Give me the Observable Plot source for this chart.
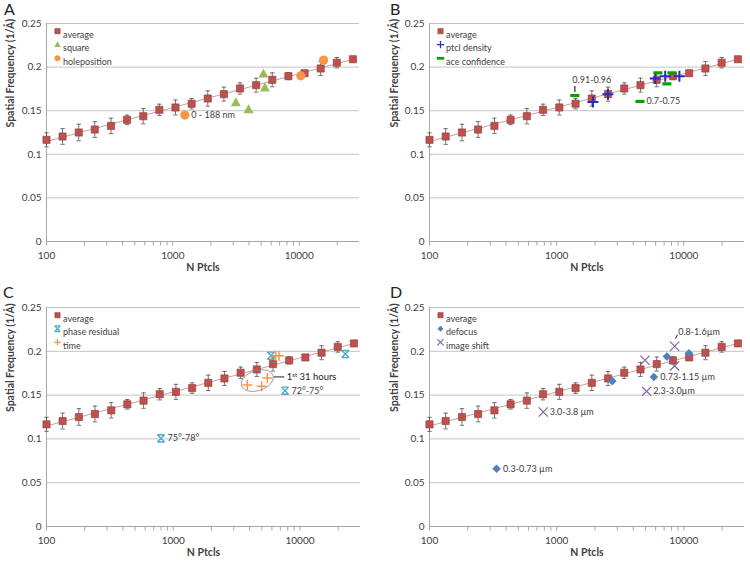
<!DOCTYPE html>
<html><head><meta charset="utf-8">
<script src="https://cdn.jsdelivr.net/npm/d3@7"></script>
<script src="https://cdn.jsdelivr.net/npm/@observablehq/plot@0.6"></script>
<style>
html,body{margin:0;padding:0;background:#fff;}
#wrap{position:relative;width:750px;height:561px;overflow:hidden;font-family:Lato,"Open Sans",sans-serif;}
.panel{position:absolute;}
.letter{position:absolute;font-size:16px;color:#222;line-height:1;}
</style></head><body><div id="wrap"></div>
<script>
// ---------- data ----------
const xDomain = [100, 30000];
const xMajorTicks = [100, 1000, 10000];
const xMinorTicks = [200,300,400,500,600,700,800,900,2000,3000,4000,5000,6000,7000,8000,9000,20000];
const yTicks = [0, 0.05, 0.1, 0.15, 0.2, 0.25];
const yTickLabels = ["0", "0.05", "0.1", "0.15", "0.2", "0.25"];

const nPtcls  = [100,134,180,241,324,434,583,782,1049,1408,1889,2534,3400,4562,6121,8213,11020,14786,19840,26620];
const avgFreq = [0.1166,0.1204,0.125,0.1284,0.1326,0.1395,0.1437,0.151,0.1537,0.158,0.164,0.169,0.1755,0.1793,0.1854,0.1896,0.193,0.1984,0.205,0.209];
const avgErr  = [0.008,0.009,0.0095,0.009,0.0088,0.0055,0.0088,0.0065,0.0086,0.006,0.0088,0.008,0.0065,0.008,0.008,0.004,0.003,0.008,0.006,0];

// Panel A
const squareN = [3150, 3970, 5210, 5350];
const squareFreq = [0.159, 0.151, 0.192, 0.176];
const holeN = [1244, 10300, 15600];
const holeFreq = [0.145, 0.190, 0.208];
const holeNotes = ["0 - 188 nm", "", ""];

// Panel B
const ptclN = [1930, 2530, 5960, 7140, 9230];
const ptclFreq = [0.160, 0.169, 0.187, 0.1896, 0.1896];
const aceN = [1390, 4520, 6250, 7360, 8070];
const aceFreq = [0.1674, 0.1606, 0.1934, 0.1808, 0.1934];
const aceNotes = ["0.91-0.96", "0.7-0.75", "", "", ""];

// Panel C
const phaseN = [800, 5900, 7620, 22750];
const phaseFreq = [0.1006, 0.195, 0.155, 0.197];
const phaseNotes = ["75°-78°", "", "72°-75°", ""];
const timeN = [3840, 4980, 5520, 6430, 6830];
const timeFreq = [0.1616, 0.160, 0.1696, 0.195, 0.195];
const timeNotes = ["", "", "1st 31 hours", "", ""];

// Panel D
const defocusN = [337, 2740, 5810, 7360, 10960];
const defocusFreq = [0.0659, 0.166, 0.1707, 0.194, 0.1978];
const defocusNotes = ["0.3-0.73 µm", "", "0.73-1.15 µm", "", ""];
const shiftN = [784, 4950, 5100, 8470, 8470];
const shiftFreq = [0.1307, 0.1898, 0.1543, 0.2058, 0.1833];
const shiftNotes = ["3.0-3.8 µm", "", "2.3-3.0µm", "0.8-1.6µm", ""];

// ---------- drawing ----------
const INK = "#404040";
const FONT = "Lato, 'Open Sans', sans-serif";
const pts = (ns, fs, notes) => ns.map((n, i) => ({n, f: fs[i], note: notes ? notes[i] : ""}));

const sym = {
  square: s => ({draw(c){ c.rect(-s, -s, 2*s, 2*s); }}),
  tri: s => ({draw(c){ c.moveTo(0, -1.1*s); c.lineTo(s, 0.7*s); c.lineTo(-s, 0.7*s); c.closePath(); }}),
  diamond: s => ({draw(c){ c.moveTo(0, -s); c.lineTo(s, 0); c.lineTo(0, s); c.lineTo(-s, 0); c.closePath(); }}),
  circle: s => ({draw(c){ c.moveTo(s, 0); c.arc(0, 0, s, 0, 2*Math.PI); c.closePath(); }}),
  plus: s => ({draw(c){ c.moveTo(-s, 0); c.lineTo(s, 0); c.moveTo(0, -s); c.lineTo(0, s); }}),
  cross: s => ({draw(c){ c.moveTo(-s, -s); c.lineTo(s, s); c.moveTo(-s, s); c.lineTo(s, -s); }}),
  star: s => ({draw(c){ c.moveTo(-s, -s); c.lineTo(s, s); c.moveTo(-s, s); c.lineTo(s, -s);
                        c.moveTo(-s, -s); c.lineTo(s, -s); c.moveTo(-s, s); c.lineTo(s, s); }}),
  dash: (w, h) => ({draw(c){ c.rect(-w, -h, 2*w, 2*h); }}),
  seg: (x0, y0, x1, y1) => ({draw(c){ c.moveTo(x0, y0); c.lineTo(x1, y1); }}),
  blob: (rx, ry, deg) => ({draw(c){
    const a = deg*Math.PI/180;
    for (let k = 0; k <= 60; k++) {
      const t = k/60*2*Math.PI, x = rx*Math.cos(t), y = ry*Math.sin(t);
      const X = x*Math.cos(a) - y*Math.sin(a), Y = x*Math.sin(a) + y*Math.cos(a);
      k ? c.lineTo(X, Y) : c.moveTo(X, Y);
    }
    c.closePath();
  }})
};

const styles = {
  "average":        {sym: sym.square(3.6),  lsym: sym.square(2.6), fill: "#C0504D", stroke: "#8C3A38", sw: 0.6},
  "square":         {sym: sym.tri(5),       lsym: sym.tri(3.2),    fill: "#9BBB59", stroke: "none", sw: 0},
  "holeposition":   {sym: sym.circle(4.6),  lsym: sym.circle(3),   fill: "#F79646", stroke: "none", sw: 0},
  "ptcl density":   {sym: sym.plus(5.5),    lsym: sym.plus(3.6),   fill: "none", stroke: "#2B2BC0", sw: 2},
  "ace confidence": {sym: sym.dash(4.5,1.6),lsym: sym.dash(3.6,1.4), fill: "#00A000", stroke: "none", sw: 0},
  "phase residual": {sym: sym.star(3.6),    lsym: sym.star(2.8),   fill: "none", stroke: "#4BACC6", sw: 1.4},
  "time":           {sym: sym.plus(5),      lsym: sym.plus(3.3),   fill: "none", stroke: "#F79646", sw: 1.5},
  "defocus":        {sym: sym.diamond(4.3), lsym: sym.diamond(3),  fill: "#4F81BD", stroke: "none", sw: 0},
  "image shift":    {sym: sym.cross(4.6),   lsym: sym.cross(3.1),  fill: "none", stroke: "#8064A2", sw: 1.2}
};

const avg = pts(nPtcls, avgFreq).map((d, i) => ({...d, e: avgErr[i]}));
const lx = avg.map(d => Math.log10(d.n));
const mx = d3.mean(lx), my = d3.mean(avg, d => d.f);
const slope = d3.sum(avg, (d, i) => (lx[i] - mx) * (d.f - my)) / d3.sum(lx, v => (v - mx) ** 2);
const trend = d3.extent(nPtcls).map(n => ({n, f: my + slope * (Math.log10(n) - mx)}));
const bars = avg.filter(d => d.e > 0);
const caps = bars.flatMap(d => [{n: d.n, f: d.f + d.e}, {n: d.n, f: d.f - d.e}]);

function seriesMarks(name, data) {
  const s = styles[name];
  return Plot.dot(data, {x: "n", y: "f", symbol: s.sym, fill: s.fill, stroke: s.stroke, strokeWidth: s.sw});
}

function panel(p) {
  const legendRows = [7.7, 21.2, 34.8];
  const names = ["average", ...p.series.map(s => s.name)];
  const marks = [
    Plot.ruleY(yTicks.slice(1), {stroke: "#c4c4c4", strokeWidth: 1}),
    Plot.ruleY([yTicks[0]], {stroke: "#a6a6a6", strokeWidth: 1}),
    Plot.ruleX([xDomain[0]], {stroke: "#a6a6a6", strokeWidth: 1}),
    Plot.dot(xMajorTicks.concat(xMinorTicks), {x: d => d, frameAnchor: "bottom", symbol: sym.seg(0, 0, 0, 4), stroke: "#a6a6a6", strokeWidth: 1}),
    Plot.line(trend, {x: "n", y: "f", stroke: "#c2a3a3", strokeWidth: 1}),
    Plot.ruleX(bars, {x: "n", y1: d => d.f - d.e, y2: d => d.f + d.e, stroke: "#505050", strokeWidth: 0.8}),
    Plot.dot(caps, {x: "n", y: "f", symbol: sym.seg(-2.2, 0, 2.2, 0), stroke: "#505050", strokeWidth: 0.8}),
    seriesMarks("average", avg),
    ...p.series.map(s => seriesMarks(s.name, s.data)),
    ...p.extra,
    // notes to the right of points
    ...p.series.map(s => Plot.text(s.data.filter((d, i) => d.note && !(s.above || []).includes(i)),
      {x: "n", y: "f", text: "note", dx: 6.5, textAnchor: "start", fontSize: 9, fill: INK})),
    // legend
    ...names.flatMap((nm, i) => [
      Plot.dot([nm], {frameAnchor: "top-left", dx: 11, dy: legendRows[i], symbol: styles[nm].lsym,
        fill: styles[nm].fill, stroke: styles[nm].stroke, strokeWidth: Math.min(styles[nm].sw, 1.3)}),
      Plot.text([nm], {frameAnchor: "top-left", dx: 16.5, dy: legendRows[i], text: d => d, textAnchor: "start", fontSize: 9, fill: INK})
    ]),
    Plot.text(["N Ptcls"], {frameAnchor: "bottom", dy: 29, text: d => d, fontWeight: "bold", fontSize: 10.5, fill: INK}),
    Plot.text(["Spatial Frequency (1/Å)"], {frameAnchor: "left", dx: p.ylabDx, dy: -5, rotate: -90, text: d => d, fontWeight: "bold", fontSize: 10.5, fill: INK})
  ];
  const svg = Plot.plot({
    width: 375, height: p.height,
    marginLeft: p.ml, marginRight: p.mr, marginTop: p.mt, marginBottom: p.mb,
    style: {fontFamily: FONT, fontSize: "10px", color: INK, background: "white", overflow: "visible"},
    x: {type: "log", domain: xDomain, ticks: xMajorTicks, tickFormat: d => String(d), tickSize: 0, tickPadding: 10, label: null},
    y: {domain: [yTicks[0], yTicks[yTicks.length - 1]], ticks: yTicks, tickFormat: d => yTickLabels[yTicks.indexOf(d)] ?? String(d), tickSize: 0, tickPadding: 5, label: null},
    marks
  });
  // superscript for "1st"
  svg.querySelectorAll("text").forEach(t => {
    if (t.textContent === "1st 31 hours") {
      t.textContent = "1";
      const sup = document.createElementNS("http://www.w3.org/2000/svg", "tspan");
      sup.setAttribute("font-size", "6"); sup.setAttribute("dy", "-3"); sup.textContent = "st";
      const rest = document.createElementNS("http://www.w3.org/2000/svg", "tspan");
      rest.setAttribute("dy", "3"); rest.textContent = " 31 hours";
      t.appendChild(sup); t.appendChild(rest);
    }
  });
  const div = document.createElement("div");
  div.className = "panel";
  div.style.left = p.left + "px"; div.style.top = p.top + "px";
  div.appendChild(svg);
  const wrap = document.getElementById("wrap");
  wrap.appendChild(div);
  const L = document.createElement("div");
  L.className = "letter"; L.textContent = p.letter;
  L.style.left = p.lx + "px"; L.style.top = p.ly + "px";
  wrap.appendChild(L);
}

const holeData = pts(holeN, holeFreq, holeNotes);
const aceData = pts(aceN, aceFreq, aceNotes);
const ptclData = pts(ptclN, ptclFreq);
const phaseData = pts(phaseN, phaseFreq, phaseNotes);
const timeData = pts(timeN, timeFreq, timeNotes);
const defocusData = pts(defocusN, defocusFreq, defocusNotes);
const shiftData = pts(shiftN, shiftFreq, shiftNotes);

// cluster loop for the "1st 31 hours" points
const cluster = timeData.slice(0, 3);
const clusterC = {n: 10 ** d3.mean(cluster, d => Math.log10(d.n)), f: d3.mean(cluster, d => d.f)};

panel({letter: "A", left: 0, top: 0, height: 280, ml: 46, mr: 16, mt: 23, mb: 39, ylabDx: -36, lx: 4, ly: 1,
  series: [{name: "square", data: pts(squareN, squareFreq)}, {name: "holeposition", data: holeData}],
  extra: []});

panel({letter: "B", left: 375, top: 0, height: 280, ml: 54, mr: 6, mt: 23, mb: 39, ylabDx: -35, lx: 390, ly: 1,
  series: [{name: "ptcl density", data: ptclData}, {name: "ace confidence", data: aceData, above: [0]}],
  extra: [
    Plot.dot([aceData[0]], {x: "n", y: "f", symbol: sym.seg(0, -3.5, 0, -9.5), stroke: "#222", strokeWidth: 1.2}),
    Plot.text([aceData[0]], {x: "n", y: "f", text: "note", dx: -2.5, dy: -15.5, textAnchor: "start", fontSize: 9, fill: INK})
  ]});

panel({letter: "C", left: 0, top: 280, height: 281, ml: 46, mr: 15, mt: 27, mb: 35, ylabDx: -36, lx: 3, ly: 284,
  series: [{name: "phase residual", data: phaseData}, {name: "time", data: timeData, above: [2]}],
  extra: [
    Plot.dot([clusterC], {x: "n", y: "f", symbol: sym.blob(16.5, 10, -18), fill: "none", stroke: "#808080", strokeWidth: 0.8, dx: -1.5, dy: -2.5}),
    Plot.dot([timeData[2]], {x: "n", y: "f", symbol: sym.seg(6.5, -1, 17, -1), stroke: "#222", strokeWidth: 1}),
    Plot.text([timeData[2]], {x: "n", y: "f", text: "note", dx: 19.5, dy: -1, textAnchor: "start", fontSize: 9.5, fill: "#222"})
  ]});

panel({letter: "D", left: 375, top: 280, height: 281, ml: 54, mr: 6, mt: 27, mb: 35, ylabDx: -35, lx: 390, ly: 284,
  series: [{name: "defocus", data: defocusData}, {name: "image shift", data: shiftData, above: [3]}],
  extra: [
    Plot.dot([shiftData[3]], {x: "n", y: "f", symbol: sym.seg(0.8, -7.5, 2.8, -11.5), stroke: "#222", strokeWidth: 1}),
    Plot.text([shiftData[3]], {x: "n", y: "f", text: "note", dx: 3.5, dy: -14.5, textAnchor: "start", fontSize: 9, fill: INK})
  ]});
</script>
</body></html>
